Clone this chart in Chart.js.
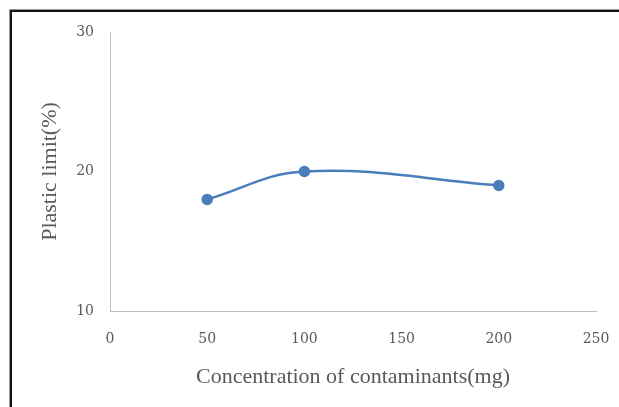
<!DOCTYPE html>
<html lang="en">
<head>
  <meta charset="UTF-8" />
  <title>Plastic limit vs concentration</title>
  <script src="https://cdn.jsdelivr.net/npm/chart.js"></script>
  <style>
    body { margin: 0; padding: 0; background: #fff; }
    .wrap { position: relative; width: 619px; height: 407px; overflow: hidden; }
    .frame { position: absolute; left: 10px; top: 10px; width: 700px; height: 500px;
             border-left: 2px solid #111; border-top: 2px solid #111;
             box-shadow: -1px -1px 0 #999; }
    canvas { position: absolute; left: 0; top: 0; }
  </style>
</head>
<body>
  <div class="wrap">
    <canvas id="chart" width="619" height="407"></canvas>
    <div class="frame"></div>
  </div>

  <script>
    const concentrations = [50, 100, 200];
    const plasticLimit = [18, 20, 19];
    const xTicks = [0, 50, 100, 150, 200, 250];
    const yTicks = [10, 20, 30];

    const points = concentrations.map((c, i) => ({ x: c, y: plasticLimit[i] }));
    const textGray = '#595959';

    new Chart(document.getElementById('chart'), {
      type: 'line',
      data: {
        datasets: [{
          data: points,
          borderColor: '#4a7ebb',
          backgroundColor: '#4a7ebb',
          borderWidth: 2.5,
          pointRadius: 4.5,
          pointHoverRadius: 4.5,
          tension: 0.4,
          fill: false
        }]
      },
      options: {
        responsive: false,
        animation: false,
        layout: { padding: { top: 32, right: 23, left: 0, bottom: 0 } },
        plugins: { legend: { display: false }, tooltip: { enabled: false } },
        scales: {
          x: {
            type: 'linear',
            min: 0, max: 250,
            afterBuildTicks: s => { s.ticks = xTicks.map(v => ({ value: v })); },
            afterFit: s => { s.height = 96; s.paddingLeft = 0; s.paddingRight = 0; },
            grid: { display: false, drawTicks: false },
            border: { color: '#bfbfbf', width: 1 },
            ticks: { padding: 20, color: textGray, maxRotation: 0,
                     font: { family: 'DejaVu Serif', size: 14 } },
            title: { display: true, text: 'Concentration of contaminants(mg)', color: textGray,
                     padding: { top: 0, bottom: 17 }, font: { family: 'Liberation Serif', size: 22 } }
          },
          y: {
            min: 10, max: 30,
            afterBuildTicks: s => { s.ticks = yTicks.map(v => ({ value: v })); },
            afterFit: s => { s.width = 110; s.paddingTop = 0; s.paddingBottom = 0; },
            grid: { display: false, drawTicks: false },
            border: { color: '#bfbfbf', width: 1 },
            ticks: { padding: 16, color: textGray,
                     font: { family: 'DejaVu Serif', size: 14 } },
            title: { display: true, text: 'Plastic limit(%)', color: textGray,
                     padding: { top: 37, bottom: 0 }, font: { family: 'Liberation Serif', size: 22 } }
          }
        }
      }
    });
  </script>
</body>
</html>
